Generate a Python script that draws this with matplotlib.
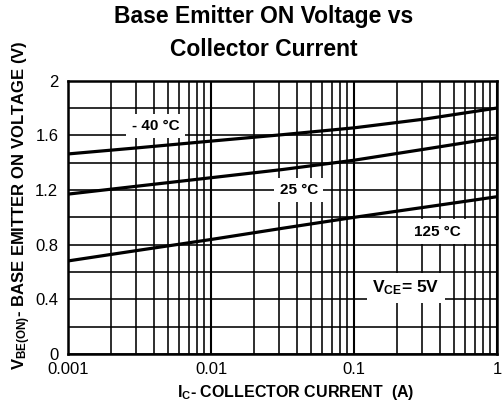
import matplotlib
matplotlib.use("Agg")
import matplotlib.pyplot as plt
from matplotlib.ticker import LogLocator, MultipleLocator, FixedLocator, NullFormatter

plt.rcParams['font.family'] = ['Liberation Sans', 'DejaVu Sans']
plt.rcParams['mathtext.fontset'] = 'custom'
plt.rcParams['mathtext.rm'] = 'Liberation Sans'
plt.rcParams['mathtext.bf'] = 'Liberation Sans:bold'
plt.rcParams['mathtext.it'] = 'Liberation Sans:italic'

# Data
ic = [0.001, 0.00316, 0.01, 0.0316, 0.1, 0.316, 1.0]
vbe_m40 = [1.464, 1.51, 1.558, 1.605, 1.655, 1.72, 1.80]
vbe_25 = [1.17, 1.23, 1.29, 1.35, 1.418, 1.50, 1.583]
vbe_125 = [0.681, 0.76, 0.838, 0.92, 1.00, 1.075, 1.151]

x_ticks = [0.001, 0.01, 0.1, 1]
x_ticklabels = ['0.001', '0.01', '0.1', '1']
y_ticks = [0, 0.4, 0.8, 1.2, 1.6, 2.0]
y_ticklabels = ['0', '0.4', '0.8', '1.2', '1.6', '2']

labels = [
    ('- 40 °C', 0.0041, 1.668),
    ('25 °C', 0.041, 1.20),
    ('125 °C', 0.38, 0.895),
]

fig = plt.figure(figsize=(5.03, 4.09), dpi=100)
ax = fig.add_axes([68/503, 1-354/409, (497-68)/503, (354-80.7)/409])

ax.set_xscale('log')
ax.set_xlim(0.001, 1)
ax.set_ylim(0, 2)

ax.xaxis.set_major_locator(FixedLocator(x_ticks))
ax.set_xticklabels(x_ticklabels)
ax.xaxis.set_minor_locator(LogLocator(base=10, subs=range(2, 10)))
ax.xaxis.set_minor_formatter(NullFormatter())
ax.yaxis.set_major_locator(FixedLocator(y_ticks))
ax.set_yticklabels(y_ticklabels)
ax.yaxis.set_minor_locator(MultipleLocator(0.2))

ax.grid(True, which='major', axis='x', color='black', linewidth=1.5, zorder=1)
ax.grid(True, which='minor', axis='x', color='black', linewidth=1.15, zorder=1)
ax.grid(True, which='both', axis='y', color='black', linewidth=1.15, zorder=1)
ax.set_axisbelow(True)

ax.tick_params(which='both', length=0, labelsize=12, colors='black')
ax.tick_params(axis='x', pad=6)
ax.tick_params(axis='y', pad=7)
for s in ax.spines.values():
    s.set_linewidth(1.8)
    s.set_zorder(5)

for v in (vbe_m40, vbe_25, vbe_125):
    ax.plot(ic, v, color='black', linewidth=2.3, zorder=3)

for txt, x, y in labels:
    ax.text(x, y, txt, ha='center', va='center', fontsize=11, fontweight='bold',
            zorder=4, bbox=dict(facecolor='white', edgecolor='none', boxstyle='square,pad=0.35'))

ax.text(0.23, 0.483, r'$\mathbf{V_{CE}}$= 5V', ha='center', va='center', fontsize=12.5,
        fontweight='bold', zorder=4,
        bbox=dict(facecolor='white', edgecolor='none', boxstyle='square,pad=0.3'))

fig.text(264/503, 1-17/409, 'Base Emitter ON Voltage vs', ha='center', va='center',
         fontsize=16.5, fontweight='bold')
fig.text(264/503, 1-50/409, 'Collector Current', ha='center', va='center',
         fontsize=16.5, fontweight='bold')

fig.text(296/503, 1-393/409, r'$\mathbf{I_{C}}$- COLLECTOR CURRENT  (A)', ha='center', va='center',
         fontsize=11.5, fontweight='bold')
fig.text(22/503, 1-205/409, r'$\mathbf{V_{BE(ON)}}$- BASE EMITTER ON VOLTAGE (V)', ha='center',
         va='center', rotation=90, fontsize=12, fontweight='bold')

fig.savefig('out.png', dpi=100)
